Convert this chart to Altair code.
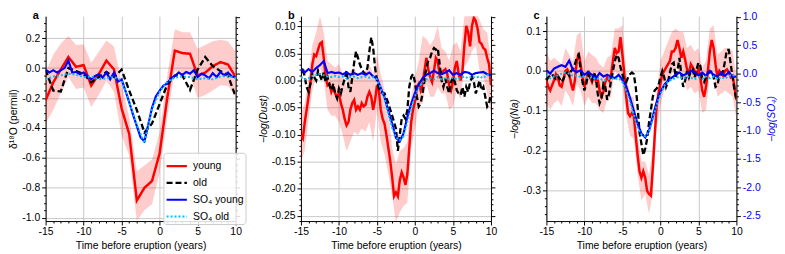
import altair as alt
import pandas as pd

FONT = "Liberation Sans"
RED, BLACK, BLUE, CYAN = "#ff0000", "#000000", "#0000ff", "#00bfff"
SERIES = ["young", "old", "SO\u2084 young", "SO\u2084 old"]

# time axes (years before eruption)
T_ANNUAL = list(range(-15, 11))
T_HALF = [i * 0.5 for i in range(-30, 21)]
T_QUARTER = [i * 0.25 for i in range(-60, 41)]

# ---------------- panel a : d18O (annual) ----------------
A_YOUNG = [-0.215, -0.096, -0.009, 0.074, 0.009, 0.020, -0.117, -0.040, 0.050, -0.009,
           -0.270, -0.440, -0.885, -0.800, -0.754, -0.570, -0.200, 0.117, 0.100, 0.096,
           -0.050, -0.030, 0.013, 0.040, 0.024, -0.060]
A_HI = [-0.030, 0.090, 0.165, 0.215, 0.155, 0.160, 0.035, 0.110, 0.185, 0.145,
        -0.100, -0.330, -0.690, -0.650, -0.610, -0.430, -0.050, 0.260, 0.240, 0.240,
        0.130, 0.155, 0.180, 0.190, 0.180, 0.110]
A_LO = [-0.370, -0.280, -0.170, -0.060, -0.140, -0.130, -0.260, -0.180, -0.085, -0.160,
        -0.450, -0.585, -1.020, -0.950, -0.910, -0.700, -0.330, -0.020, -0.040, -0.050,
        -0.200, -0.180, -0.150, -0.115, -0.120, -0.190]
A_OLD = [-0.010, -0.150, -0.156, 0.000, -0.020, -0.040, -0.095, -0.060, -0.026, -0.060,
         -0.010, -0.150, -0.280, -0.430, -0.370, -0.240, -0.110, -0.050, -0.050, -0.146,
         -0.010, 0.074, 0.013, -0.020, -0.050, -0.190]
A_SO4_YOUNG = [0.07, 0.02, 0.06, 0.02, 0.06, 0.10, 0.23, 0.02, 0.03, -0.01,
               0.02, -0.04, -0.10, -0.04, -0.01, -0.07, 0.02, -0.10, 0.02, -0.14,
               -0.10, -0.30, -0.50, -0.72, -0.92, -1.12, -1.19, -0.90, -0.60, -0.40,
               -0.30, -0.21, -0.17, -0.08, -0.04, 0.02, -0.02, 0.03, 0.00, 0.06,
               -0.06, 0.00, -0.03, -0.08, 0.01, -0.06, 0.03, -0.03, 0.02, -0.05, -0.06]
A_SO4_OLD = [-0.10, -0.05, -0.03, 0.00, -0.02, -0.06, -0.05, -0.10, -0.08, -0.06,
             -0.12, -0.50, -0.90, -1.22, -0.62, -0.32, -0.14, -0.07, -0.05, -0.06,
             -0.10, -0.08, -0.10, -0.05, -0.04, -0.08]

# ---------------- panel b : -log(Dust) ----------------
B_YOUNG = [-0.101, -0.107, -0.077, -0.054, -0.030, -0.003, 0.030, 0.048,
           0.045, 0.057, 0.068, 0.071, 0.042, 0.006, -0.009, -0.006,
           -0.021, -0.012, -0.024, -0.030, -0.024, -0.042, -0.054, -0.071,
           -0.083, -0.077, -0.054, -0.042, -0.036, -0.054, -0.048, -0.054,
           -0.042, -0.048, -0.045, -0.030, -0.021, -0.030, -0.054, -0.036,
           -0.009, -0.018, -0.054, -0.071, -0.080, -0.101, -0.125, -0.149,
           -0.179, -0.214, -0.207, -0.214, -0.185, -0.170, -0.179, -0.193,
           -0.173, -0.125, -0.077, -0.054, -0.039, -0.012, -0.006, -0.018,
           -0.006, 0.018, 0.042, 0.021, 0.006, -0.003, 0.018, 0.042,
           0.036, 0.009, 0.015, 0.018, 0.021, 0.012, -0.009, -0.018,
           -0.003, 0.024, 0.036, 0.012, 0.000, 0.018, 0.065, 0.101,
           0.089, 0.063, 0.101, 0.116, 0.110, 0.095, 0.071, 0.068,
           0.060, 0.057, 0.042, 0.030, -0.009]
B_OLD = [0.012, 0.024, 0.006, -0.012, -0.021, -0.006, 0.012, 0.006,
         0.000, 0.018, 0.009, 0.000, 0.015, -0.003, 0.006, -0.009,
         -0.018, -0.006, -0.024, -0.033, -0.015, -0.024, -0.009, 0.003,
         0.018, -0.012, -0.021, 0.006, 0.033, 0.054, 0.042, 0.030,
         0.021, 0.015, 0.012, 0.024, 0.054, 0.080, 0.060, 0.024,
         0.000, -0.015, -0.021, -0.024, -0.024, -0.033, -0.042, -0.054,
         -0.065, -0.077, -0.089, -0.130, -0.101, -0.071, -0.065, -0.071,
         -0.054, -0.012, 0.006, 0.012, -0.003, -0.030, -0.048, -0.042,
         -0.024, 0.000, 0.024, 0.036, 0.042, 0.054, 0.060, 0.057,
         0.060, 0.030, 0.000, -0.012, 0.003, -0.012, -0.024, -0.003,
         0.006, -0.003, -0.018, -0.024, -0.027, -0.012, -0.030, -0.012,
         -0.021, -0.003, 0.006, -0.003, -0.024, -0.012, 0.000, -0.018,
         -0.012, -0.030, -0.048, -0.042, -0.024]
B_HI = [-0.060, -0.042, 0.006, 0.065, 0.089, 0.119, 0.089, 0.036, 0.030, 0.024,
        0.030, 0.012, -0.012, 0.018, 0.024, 0.006, 0.012, 0.018, 0.030, 0.012,
        0.048, 0.012, -0.018, -0.054, -0.125, -0.155, -0.131, -0.125, -0.113, -0.030,
        0.006, 0.036, 0.083, 0.077, 0.065, 0.077, 0.101, 0.060, 0.054, 0.036,
        0.065, 0.071, 0.054, 0.119, 0.125, 0.125, 0.125, 0.113, 0.095, 0.089, 0.036]
B_LO = [-0.149, -0.131, -0.071, -0.018, 0.006, 0.024, 0.000, -0.054, -0.065, -0.065,
        -0.077, -0.101, -0.131, -0.113, -0.095, -0.101, -0.089, -0.095, -0.077, -0.113,
        -0.054, -0.113, -0.137, -0.173, -0.214, -0.262, -0.244, -0.232, -0.226, -0.125,
        -0.089, -0.048, -0.042, -0.006, -0.030, -0.030, -0.012, -0.024, -0.024, -0.054,
        -0.048, -0.018, -0.036, 0.024, 0.036, 0.054, 0.065, 0.018, 0.006, -0.024, -0.060]
B_SO4_YOUNG = [0.08, 0.02, 0.08, 0.03, 0.10, 0.15, 0.22, 0.01, 0.03, 0.01,
               0.02, -0.01, 0.02, -0.02, 0.01, -0.02, 0.01, -0.02, 0.02, -0.05,
               -0.08, -0.25, -0.42, -0.65, -0.88, -1.13, -1.19, -1.05, -0.76, -0.53,
               -0.34, -0.19, -0.08, -0.02, 0.01, 0.05, 0.01, -0.01, 0.02, 0.06,
               -0.02, 0.01, -0.02, 0.03, 0.02, -0.02, 0.01, 0.02, 0.03, -0.01, -0.03]
B_SO4_OLD = [-0.06, -0.10, -0.08, -0.04, -0.02, 0.00, -0.03, -0.05, -0.06, -0.04,
             -0.06, -0.05, -0.08, -0.06, -0.05, -0.08, -0.06, -0.05, -0.07, -0.06,
             -0.10, -0.25, -0.45, -0.70, -0.95, -1.12, -1.17, -1.10, -0.85, -0.60,
             -0.40, -0.25, -0.15, -0.10, -0.08, -0.10, -0.06, -0.10, -0.08, -0.10,
             -0.07, -0.10, -0.08, -0.05, -0.08, -0.05, -0.07, -0.05, -0.08, -0.02, -0.05]

# ---------------- panel c : -log(Na) ----------------
C_YOUNG = [-0.024, -0.040, -0.049, -0.036, -0.024, -0.008, -0.016, -0.036,
           -0.040, -0.020, 0.000, 0.004, -0.008, -0.032, -0.049, -0.024,
           0.025, 0.045, 0.017, -0.016, -0.040, -0.024, 0.000, -0.016,
           -0.028, -0.012, -0.024, -0.020, -0.049, -0.065, -0.053, -0.028,
           -0.016, -0.024, -0.012, 0.025, 0.058, 0.045, 0.049, 0.085,
           0.041, -0.008, -0.065, -0.106, -0.114, -0.106, -0.114, -0.163,
           -0.212, -0.253, -0.269, -0.253, -0.269, -0.302, -0.310, -0.314,
           -0.244, -0.163, -0.089, -0.057, -0.032, -0.008, 0.000, 0.009,
           0.017, 0.025, 0.049, 0.049, 0.058, 0.078, 0.058, 0.033,
           0.049, 0.029, 0.004, -0.008, 0.017, 0.009, 0.000, -0.008,
           0.004, -0.016, -0.049, -0.065, -0.040, 0.000, 0.049, 0.078,
           0.058, 0.017, -0.016, 0.000, -0.008, -0.012, 0.000, 0.004,
           -0.004, -0.016, -0.012, -0.040, -0.073]
C_OLD = [-0.024, -0.016, -0.012, -0.008, -0.016, -0.020, -0.012, -0.020,
         -0.028, -0.020, -0.008, -0.004, -0.012, 0.000, 0.004, 0.017,
         0.033, 0.041, 0.004, -0.028, -0.049, -0.032, -0.008, -0.016,
         -0.024, -0.004, -0.016, -0.057, -0.081, -0.069, -0.032, -0.040,
         -0.073, -0.057, -0.024, 0.000, 0.025, 0.041, 0.033, 0.009,
         -0.008, -0.024, -0.028, -0.016, -0.008, -0.004, -0.008, -0.040,
         -0.089, -0.155, -0.183, -0.212, -0.196, -0.171, -0.130, -0.098,
         -0.065, -0.049, -0.044, -0.036, -0.016, 0.000, -0.016, -0.040,
         -0.028, -0.004, 0.017, 0.021, -0.016, 0.000, 0.033, -0.008,
         -0.040, -0.024, 0.000, -0.016, 0.000, 0.004, -0.016, 0.004,
         0.021, 0.013, -0.020, -0.028, -0.016, -0.004, -0.004, 0.000,
         -0.016, -0.040, -0.036, -0.012, -0.008, 0.000, 0.025, 0.053,
         0.053, 0.017, -0.016, -0.049, -0.073]
C_HI = [0.049, 0.025, 0.033, 0.025, 0.017, 0.058, 0.041, 0.025, 0.090, 0.098,
        0.025, 0.049, 0.041, 0.033, 0.017, 0.009, 0.033, 0.041, 0.107, 0.107,
        0.115, 0.000, -0.065, -0.065, -0.163, -0.228, -0.228, -0.261, -0.196, -0.057,
        0.025, 0.049, 0.074, 0.098, 0.107, 0.098, 0.098, 0.058, 0.066, 0.049,
        0.058, 0.009, 0.025, 0.107, 0.115, 0.041, 0.049, 0.058, 0.058, 0.049, -0.016]
C_LO = [-0.081, -0.098, -0.081, -0.073, -0.089, -0.049, -0.065, -0.089, -0.032, -0.049,
        -0.089, -0.065, -0.081, -0.081, -0.098, -0.106, -0.073, -0.065, 0.000, -0.016,
        -0.032, -0.114, -0.163, -0.171, -0.261, -0.326, -0.310, -0.360, -0.310, -0.147,
        -0.089, -0.049, -0.032, -0.008, 0.009, 0.000, -0.016, -0.049, -0.040, -0.057,
        -0.049, -0.106, -0.098, -0.008, 0.000, -0.065, -0.057, -0.049, -0.057, -0.065, -0.122]
C_SO4_YOUNG = [0.06, 0.00, 0.09, 0.12, 0.15, 0.12, 0.23, 0.06, 0.03, 0.06,
               -0.02, 0.03, -0.02, -0.08, 0.01, -0.05, -0.02, -0.05, -0.08, -0.02,
               -0.11, -0.22, -0.42, -0.65, -0.88, -1.05, -1.12, -1.00, -0.75, -0.50,
               -0.32, -0.20, -0.12, -0.07, -0.02, 0.02, -0.03, 0.00, 0.05, 0.03,
               -0.03, 0.02, -0.04, 0.05, -0.02, -0.05, 0.02, -0.04, 0.03, -0.06, -0.05]
C_SO4_OLD = [-0.02, -0.08, -0.05, -0.03, 0.00, 0.02, 0.00, -0.04, -0.03, -0.06,
             -0.05, -0.08, -0.06, -0.10, -0.08, -0.12, -0.10, -0.08, -0.10, -0.08,
             -0.15, -0.30, -0.50, -0.72, -0.95, -1.07, -1.10, -1.02, -0.80, -0.55,
             -0.36, -0.22, -0.14, -0.10, -0.08, -0.05, -0.09, -0.05, -0.07, -0.10,
             -0.06, -0.09, -0.05, -0.08, -0.05, -0.10, -0.06, -0.09, -0.04, -0.02, -0.06]

W, H = 192, 207
FS = 10.5


def major_test(step):
    return f"abs(datum.value/{step} - round(datum.value/{step})) < 1e-6"


def num_axis(values, step, fmt, title, orient, show_labels=True, color="#000000",
             italic=False, grid=True, title_angle=None, title_baseline=None, title_pad=3):
    test = major_test(step)
    if show_labels:
        label_expr = f"({test}) ? replace(format(datum.value, '{fmt}'), '\u2212', '-') : ''"
    else:
        label_expr = "''"
    kw = dict(
        values=values, orient=orient, labelExpr=label_expr,
        tickSize={"condition": {"test": test, "value": 4}, "value": 2},
        tickColor="#000000", tickWidth=1, domainColor="#000000", domainWidth=1,
        grid=grid, gridColor="#c8c8c8", gridWidth=1,
        labelColor=color, labelFontSize=FS, labelFont=FONT, labelPadding=2,
        labelOverlap=False, labelFlush=False,
        title=title, titleColor=color, titleFontSize=FS, titleFont=FONT,
        titleFontWeight="normal", titleFontStyle="italic" if italic else "normal",
        titlePadding=title_pad,
    )
    if grid:
        kw["gridOpacity"] = {"condition": {"test": test, "value": 1}, "value": 0}
    if title_angle is not None:
        kw["titleAngle"] = title_angle
    if title_baseline is not None:
        kw["titleBaseline"] = title_baseline
    return alt.Axis(**kw)


X_AXIS = num_axis(list(range(-15, 11)), 5, "d", "Time before eruption (years)", "bottom")
X_ENC = alt.X("t:Q", scale=alt.Scale(domain=[-15, 10], nice=False, zero=False), axis=X_AXIS)
R_SCALE = alt.Scale(domain=[-2.59, 1.01], nice=False, zero=False)
R_VALUES = [round(-2.5 + 0.1 * i, 1) for i in range(36)]

LEGEND = alt.Legend(orient="none", legendX=119, legendY=138, title=None,
                    fillColor="rgba(255,255,255,0.85)", strokeColor="#cccccc",
                    cornerRadius=3, padding=2, symbolType="stroke", symbolSize=420,
                    rowPadding=-4, labelFontSize=FS, labelFont=FONT, labelColor="#000000",
                    labelOffset=5)


def style_enc(legend):
    lg = legend if legend is not None else None
    return dict(
        color=alt.Color("series:N", scale=alt.Scale(domain=SERIES, range=[RED, BLACK, BLUE, CYAN]),
                        legend=lg),
        strokeDash=alt.StrokeDash("series:N", scale=alt.Scale(domain=SERIES,
                                  range=[[1, 0], [6, 3], [1, 0], [2, 2]]), legend=lg),
        strokeWidth=alt.StrokeWidth("series:N", scale=alt.Scale(domain=SERIES,
                                    range=[2.5, 2.0, 1.3, 2.0]), legend=lg),
    )


def panel(letter, t_main, young, old, t_band, lo, hi, t_sy, so4_y, t_so, so4_o,
          ydom, yvals, ystep, yfmt, ytitle, italic, right_labels, legend):
    yscale = alt.Scale(domain=ydom, nice=False, zero=False)
    left_axis = num_axis(yvals, ystep, yfmt, ytitle, "left", italic=italic)
    if right_labels:
        right_axis = num_axis(R_VALUES, 0.5, ".1f", "\u2212log(SO\u2084)", "right",
                              color=BLUE, italic=True, grid=False,
                              title_angle=270, title_baseline="top", title_pad=6)
    else:
        right_axis = num_axis(R_VALUES, 0.5, ".1f", "", "right", show_labels=False, grid=False)

    band_df = pd.DataFrame({"t": t_band, "lo": lo, "hi": hi})
    main_df = pd.DataFrame({"t": list(t_main) * 2, "v": young + old,
                            "series": [SERIES[0]] * len(young) + [SERIES[1]] * len(old)})
    so4_df = pd.DataFrame({"t": list(t_sy) + list(t_so), "v": so4_y + so4_o,
                           "series": [SERIES[2]] * len(so4_y) + [SERIES[3]] * len(so4_o)})

    band = alt.Chart(band_df).mark_area(color=RED, opacity=0.2, clip=True).encode(
        x=X_ENC, y=alt.Y("lo:Q", scale=yscale, axis=left_axis), y2="hi:Q")
    lines = alt.Chart(main_df).mark_line(clip=True).encode(
        x=X_ENC, y=alt.Y("v:Q", scale=yscale, axis=None), **style_enc(legend))
    so4 = alt.Chart(so4_df).mark_line(clip=True).encode(
        x=X_ENC, y=alt.Y("v:Q", scale=R_SCALE, axis=right_axis), **style_enc(legend))

    title = alt.TitleParams(text=letter, anchor="start", frame="group", fontSize=11,
                            fontWeight="bold", font=FONT, color="#000000", dx=-13,
                            offset=-9)
    return alt.layer(band, lines, so4).resolve_scale(y="independent").properties(
        width=W, height=H, title=title)


pa = panel("a", T_ANNUAL, A_YOUNG, A_OLD, T_ANNUAL, A_LO, A_HI, T_HALF, A_SO4_YOUNG,
           T_ANNUAL, A_SO4_OLD, [-1.022, 0.347], [round(-1.0 + 0.05 * i, 2) for i in range(27)],
           0.2, ".1f", "\u03b4\u00b9\u2078O (permil)", False, False, LEGEND)
pb = panel("b", T_QUARTER, B_YOUNG, B_OLD, T_HALF, B_LO, B_HI, T_HALF, B_SO4_YOUNG,
           T_HALF, B_SO4_OLD, [-0.26, 0.119], [round(-0.26 + 0.01 * i, 2) for i in range(38)],
           0.05, ".2f", "\u2212log(Dust)", True, False, None)
pc = panel("c", T_QUARTER, C_YOUNG, C_OLD, T_HALF, C_LO, C_HI, T_HALF, C_SO4_YOUNG,
           T_HALF, C_SO4_OLD, [-0.378, 0.138], [round(-0.36 + 0.02 * i, 2) for i in range(25)],
           0.1, ".1f", "\u2212log(Na)", True, True, None)

chart = alt.hconcat(pa, pb, pc, spacing=12).resolve_scale(
    color="independent", strokeDash="independent", strokeWidth="independent"
).properties(
    padding={"left": 0, "top": 0, "right": 0, "bottom": 0}
).configure(font=FONT).configure_view(strokeWidth=0)

chart.save("out.html", embed_options={"renderer": "svg", "actions": False})
